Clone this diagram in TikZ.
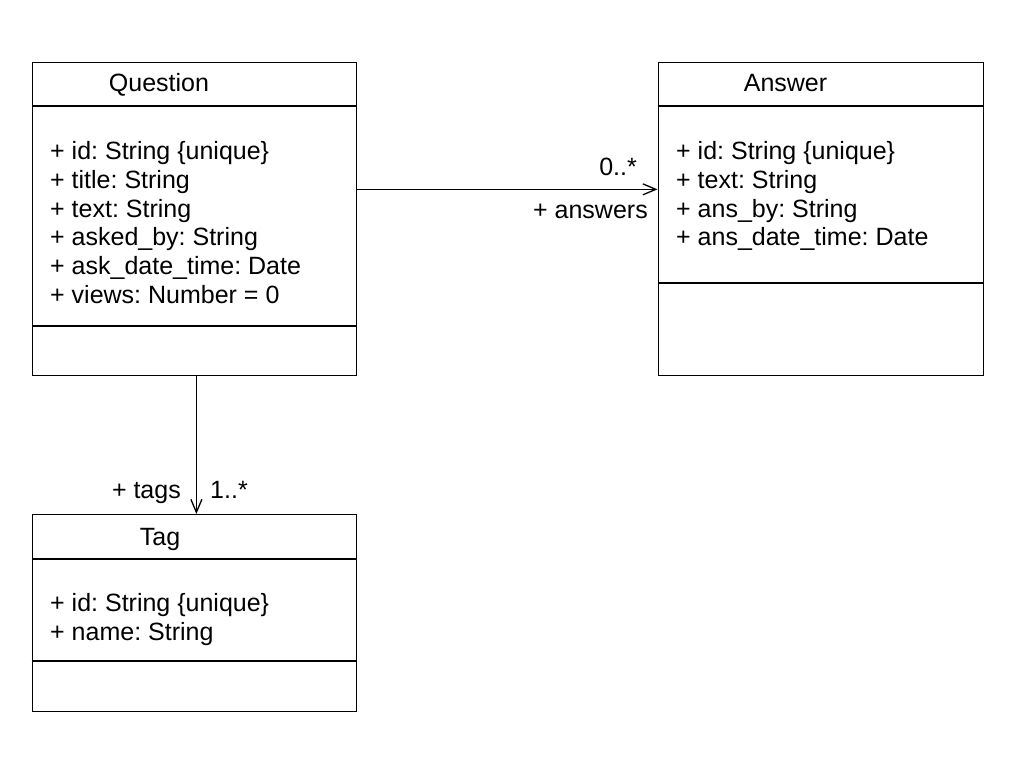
\documentclass[tikz,border=0pt]{standalone}
\usepackage{fontspec}
\setmainfont{Liberation Sans}
\usetikzlibrary{arrows.meta}
\frenchspacing
\begin{document}
\begin{tikzpicture}[x=1pt,y=-1pt,
  cls/.style={draw, line width=1.3pt, rectangle, inner sep=0pt, anchor=north west},
  div/.style={line width=1.3pt},
  txt/.style={anchor=base west, inner sep=0pt, font=\fontsize{25}{28.8}\selectfont},
  ttl/.style={anchor=base, inner sep=0pt, font=\fontsize{25}{28.8}\selectfont},
  lbl/.style={inner sep=0pt, font=\fontsize{25}{28.8}\selectfont},
  assoc/.style={line width=1.3pt, -{Straight Barb[length=13pt,width=11pt,line width=1.3pt]}}
]
\useasboundingbox (0,0) rectangle (1018,760);

% Question
\node[cls, minimum width=324.5pt, minimum height=313pt] (q) at (31.5,62) {};
\draw[div] (q.west |- 0,106) -- (q.east |- 0,106);
\draw[div] (q.west |- 0,326) -- (q.east |- 0,326);
\node[ttl] (qt) at (159,92) {Question};
\foreach \t [count=\i from 0] in {{+ id: String \{unique\}},{+ title: String},{+ text: String},{+ asked\_by: String},{+ ask\_date\_time: Date},{+ views: Number = 0}}
  \node[txt] (q\i) at (50,{159.5+28.8*\i}) {\t};

% Answer
\node[cls, minimum width=325pt, minimum height=313pt] (a) at (657.5,62) {};
\draw[div] (a.west |- 0,106) -- (a.east |- 0,106);
\draw[div] (a.west |- 0,283) -- (a.east |- 0,283);
\node[ttl] (at) at (785.5,92) {Answer};
\foreach \t [count=\i from 0] in {{+ id: String \{unique\}},{+ text: String},{+ ans\_by: String},{+ ans\_date\_time: Date}}
  \node[txt] (a\i) at (676,{159.5+28.8*\i}) {\t};

% Tag
\node[cls, minimum width=324.5pt, minimum height=197pt] (t) at (31.5,514) {};
\draw[div] (t.west |- 0,559) -- (t.east |- 0,559);
\draw[div] (t.west |- 0,661) -- (t.east |- 0,661);
\node[ttl] (tt) at (160,545) {Tag};
\foreach \t [count=\i from 0] in {{+ id: String \{unique\}},{+ name: String}}
  \node[txt] (t\i) at (50,{611.5+28.8*\i}) {\t};

% Associations
\draw[assoc] ([yshift=29.8pt]q.east) -- ([yshift=29.8pt]a.west);
\node[lbl, anchor=base east] (m1) at (637,175) {0..*};
\node[lbl, anchor=base east] (r1) at (648,218) {+ answers};

\draw[assoc] ([xshift=2pt]q.south) -- ([xshift=2pt]t.north);
\node[lbl, anchor=base east] (r2) at (181,498) {+ tags};
\node[lbl, anchor=base west] (m2) at (210,498) {1..*};
\end{tikzpicture}
\end{document}
